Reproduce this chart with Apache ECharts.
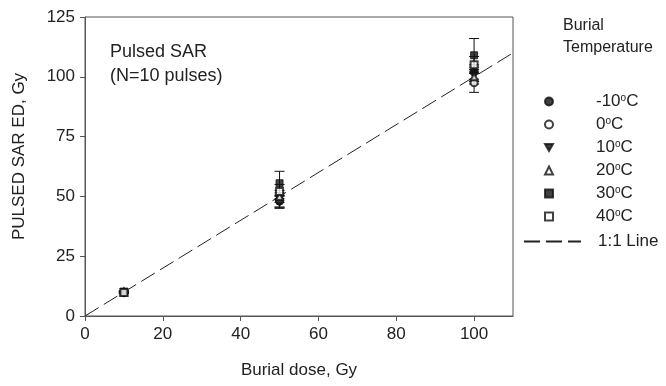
<!DOCTYPE html>
<html>
<head>
<meta charset="utf-8">
<script src="https://cdn.jsdelivr.net/npm/echarts@6/dist/echarts.min.js"></script>
<style>
  html, body { margin: 0; padding: 0; background: #fff; }
  #chart { width: 666px; height: 386px; }
</style>
</head>
<body>
<div id="chart"></div>
<script>
// burial dose (Gy) and pulsed SAR ED (Gy) per burial temperature
const doses = [10, 50, 100];
const tempNames = ['-10°C', '0°C', '10°C', '20°C', '30°C', '40°C'];
const edM10 = [10, 48, 102];
const ed0 = [9.7, 48.5, 97.5];
const ed10 = [10, 47.5, 101];
const ed20 = [10, 50, 100];
const ed30 = [10, 55.5, 109];
const ed40 = [9.8, 52, 105];
const errM10 = [0.4, 2.5, 3];
const err0 = [0.4, 3, 4];
const err10 = [0.4, 2.5, 3];
const err20 = [0.4, 2.5, 3];
const err30 = [0.4, 5, 7];
const err40 = [0.4, 3, 3.5];
const lineX = [0, 110];
const yTicks = [0, 25, 50, 75, 100, 125];
const xTicks = [0, 20, 40, 60, 80, 100];

const allEd = [edM10, ed0, ed10, ed20, ed30, ed40];
const allErr = [errM10, err0, err10, err20, err30, err40];
const downTri = 'path://M0,0L10,0L5,8.7Z';
const symbols = ['circle', 'emptyCircle', downTri, 'emptyTriangle', 'rect', 'emptyRect'];
const sizes = [8, 7, 8, 7, 7, 7];

const font = 'Liberation Sans, Arial, sans-serif';
const chart = echarts.init(document.getElementById('chart'));

const series = [];
// error bars
allEd.forEach((ed, k) => {
  series.push({
    type: 'custom',
    silent: true,
    z: 1,
    data: doses.map((d, i) => [d, ed[i] - allErr[k][i], ed[i] + allErr[k][i]]),
    renderItem: (params, api) => {
      const lo = api.coord([api.value(0), api.value(1)]);
      const hi = api.coord([api.value(0), api.value(2)]);
      const w = 5;
      const st = { stroke: '#111', lineWidth: 1 };
      return {
        type: 'group',
        children: [
          { type: 'line', shape: { x1: lo[0], y1: lo[1], x2: hi[0], y2: hi[1] }, style: st },
          { type: 'line', shape: { x1: lo[0] - w, y1: lo[1], x2: lo[0] + w, y2: lo[1] }, style: st },
          { type: 'line', shape: { x1: hi[0] - w, y1: hi[1], x2: hi[0] + w, y2: hi[1] }, style: st }
        ]
      };
    }
  });
});
allEd.forEach((ed, k) => {
  series.push({
    name: tempNames[k],
    type: 'scatter',
    z: 3,
    symbol: symbols[k],
    symbolSize: sizes[k],
    itemStyle: { color: '#111', borderColor: '#111', borderWidth: 1 },
    data: doses.map((d, i) => [d, ed[i]])
  });
});
series.push({
  name: '1:1 Line',
  type: 'line',
  z: 2,
  symbol: 'none',
  silent: true,
  itemStyle: { color: '#222' },
  lineStyle: { color: '#222', width: 1, type: [16, 6] },
  data: lineX.map(v => [v, v])
});

chart.setOption({
  animation: false,
  backgroundColor: '#fff',
  textStyle: { fontFamily: font },
  grid: { left: 85, right: 153, top: 17, bottom: 70, show: true, borderColor: '#555', borderWidth: 1 },
  title: {
    text: 'Burial\nTemperature',
    left: 558, top: 10,
    textStyle: { fontFamily: font, fontSize: 16, fontWeight: 'normal', color: '#222', lineHeight: 22 }
  },
  graphic: [{
    type: 'text', left: 110, top: 40,
    style: { text: 'Pulsed SAR\n(N=10 pulses)', font: '18px ' + font, fill: '#222', lineHeight: 24 }
  }],
  legend: [{
    data: tempNames,
    orient: 'vertical',
    left: 539, top: 88,
    itemWidth: 8, itemHeight: 8,
    itemGap: 6,
    textStyle: {
      fontFamily: font, fontSize: 17, color: '#222', padding: [0, 0, 0, 38], lineHeight: 17,
      rich: { sup: { fontFamily: font, fontSize: 10, color: '#222', verticalAlign: 'top', padding: [0, 0, 9, 0] } }
    },
    formatter: n => n.replace('°', '{sup|o}')
  }, {
    data: [{ name: '1:1 Line', itemStyle: { opacity: 0 } }],
    orient: 'vertical',
    left: 518, top: 228,
    itemWidth: 57, itemHeight: 10,
    textStyle: { fontFamily: font, fontSize: 17, color: '#222', padding: [0, 0, 0, 12] }
  }],
  xAxis: {
    type: 'value', min: 0, max: 110, interval: 20,
    name: 'Burial dose, Gy', nameLocation: 'middle', nameGap: 46,
    nameTextStyle: { fontFamily: font, fontSize: 17, color: '#222' },
    axisLine: { show: true, onZero: false, lineStyle: { color: '#555' } },
    axisTick: { show: true, length: 5, lineStyle: { color: '#555' } },
    axisLabel: { fontFamily: font, fontSize: 17, color: '#222', margin: 10, showMaxLabel: false,
      formatter: v => xTicks.includes(v) ? String(v) : '' },
    splitLine: { show: false }
  },
  yAxis: {
    type: 'value', min: 0, max: 125, interval: 25,
    name: 'PULSED SAR ED, Gy', nameLocation: 'middle', nameGap: 57,
    nameTextStyle: { fontFamily: font, fontSize: 17, color: '#222', padding: [0, 0, 0, 20] },
    axisLine: { show: true, lineStyle: { color: '#555' } },
    axisTick: { show: true, length: 5, lineStyle: { color: '#555' } },
    axisLabel: { fontFamily: font, fontSize: 17, color: '#222', margin: 10,
      formatter: v => yTicks.includes(v) ? String(v) : '' },
    splitLine: { show: false }
  },
  series: series
});
</script>
</body>
</html>
